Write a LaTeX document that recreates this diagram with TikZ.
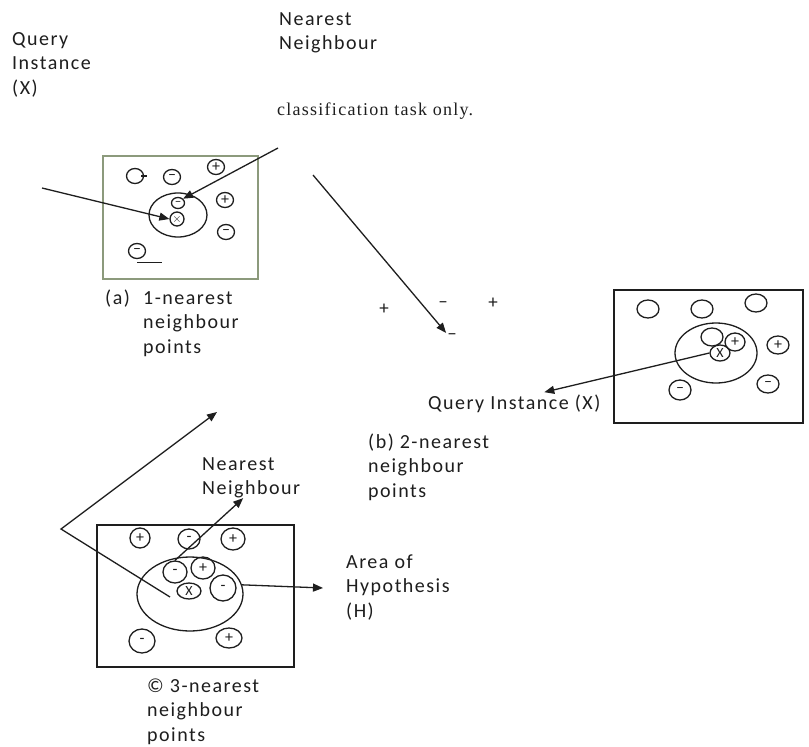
\documentclass[tikz,border=0pt]{standalone}
\usepackage{fontspec}
\setmainfont{Carlito}[LetterSpace=7.5]
\newfontfamily\serifA{Liberation Serif}[LetterSpace=7]
\newfontfamily\signfont{Carlito}
\usetikzlibrary{arrows.meta,shapes.geometric}
\definecolor{ink}{HTML}{1E1E1E}
\definecolor{boxgreen}{HTML}{8C9A7C}
\tikzset{
  lbl/.style={font=\fontsize{20}{24.5}\selectfont, align=left, anchor=base west, inner sep=0pt, text=ink},
  pt/.style={draw=ink, ellipse, inner sep=0pt, line width=1.3pt, font=\signfont\fontsize{16}{16}\selectfont, text=ink},
  sgn/.style={font=\signfont\fontsize{19}{19}\selectfont, inner sep=1pt, text=ink},
  arr/.style={draw=ink, line width=1.3pt, -{Triangle[length=10pt,width=8pt]}},
  frame/.style={draw=ink, line width=1.3pt, inner sep=0pt},
}
\begin{document}
\begin{tikzpicture}[x=1pt,y=-1pt]
\useasboundingbox (0,0) rectangle (809,747);
\fill[white] (0,0) rectangle (809,747);

% ---------- top labels (anchor = baseline of the last line)
\node[lbl] (qlab) at (12,94) {Query\\Instance\\(X)};
\node[lbl] (nntop) at (279,49.5) {Nearest\\Neighbour};
\node[lbl, font=\serifA\fontsize{18}{18}\selectfont] (cls) at (277,115) {classification task only.};

% ---------- panel (a)
\node[frame, draw=boxgreen, minimum width=155, minimum height=123] (boxa) at (180.5,217.5) {};
\node[pt, minimum width=17, minimum height=15] (a1) at (135,176) {};
\draw[draw=ink, line width=1.3pt] ([xshift=-3pt]a1.east) -- ([xshift=3pt]a1.east);
\node[pt, minimum width=17, minimum height=15] (a2) at (172,177) {–};
\node[pt, minimum width=17, minimum height=15] (a3) at (216,167) {+};
\node[pt, minimum width=17, minimum height=15] (a4) at (225,200) {+};
\node[pt, minimum width=17, minimum height=15] (a5) at (226,232) {–};
\node[pt, minimum width=58, minimum height=44] (aH) at (178,215) {};
\node[pt, minimum width=13, minimum height=11, font=\signfont\fontsize{13}{13}\selectfont] (a6) at (178,203) {–};
\node[pt, minimum width=14, minimum height=14, font=\signfont\fontsize{13}{13}\selectfont] (aX) at (177,219) {$\times$};
\node[pt, minimum width=17, minimum height=15] (a7) at (137,251) {–};
\draw[draw=ink, line width=1.3pt] ([yshift=-3pt]a7.south) -- ++(25,0);
\coordinate (qa) at (42,188);
\coordinate (na) at (278,148);
\draw[arr] (qa) -- (aX.west);
\draw[arr] (na) -- (a6.40);
\node[lbl] (laba) at (105,353) {\makebox[38pt][l]{(a)}1-nearest\\\hspace*{38pt}neighbour\\\hspace*{38pt}points};

% ---------- middle signs and long arrow
\node[sgn] (s1) at (384,309) {+};
\node[sgn] (s2) at (443,305) {–};
\node[sgn] (s3) at (493,303) {+};
\node[sgn] (s4) at (452,337) {–};
\coordinate (m1) at (313,175);
\draw[arr] (m1) -- (s4.north west);

% ---------- panel (b)
\node[frame, minimum width=189, minimum height=133] (boxb) at (708.5,356.5) {};
\node[pt, minimum width=22, minimum height=18] (b1) at (648,309) {};
\node[pt, minimum width=22, minimum height=18] (b2) at (702,309) {};
\node[pt, minimum width=22, minimum height=18] (b3) at (756,303) {};
\node[pt, minimum width=82, minimum height=60] (bH) at (716,353) {};
\node[pt, minimum width=22, minimum height=18] (b4) at (712,337) {};
\node[pt, minimum width=20, minimum height=18] (b5) at (735,342) {+};
\node[pt, minimum width=20, minimum height=16, font=\signfont\fontsize{14}{14}\selectfont] (bX) at (720,353) {X};
\node[pt, minimum width=22, minimum height=18] (b6) at (778,345) {+};
\node[pt, minimum width=22, minimum height=20] (b7) at (680,390) {–};
\node[pt, minimum width=22, minimum height=18] (b8) at (768,384) {–};
\node[lbl] (qb) at (428,409) {Query Instance (X)};
\draw[arr] (bX.west) -- ([xshift=30pt,yshift=2pt]qb.north);
\node[lbl] (labb) at (368,497) {(b) 2-nearest\\neighbour\\points};

% ---------- panel (c)
\node[frame, minimum width=197, minimum height=142] (boxc) at (195.5,596) {};
\node[pt, minimum width=20, minimum height=20] (c1) at (140,538) {+};
\node[pt, minimum width=22, minimum height=20] (c2) at (189,539) {-};
\node[pt, minimum width=24, minimum height=22] (c3) at (233,539) {+};
\node[pt, minimum width=106, minimum height=74] (cH) at (190,594) {};
\node[pt, minimum width=24, minimum height=22] (c4) at (175,572) {-};
\node[pt, minimum width=24, minimum height=22] (c5) at (203,568) {+};
\node[pt, minimum width=24, minimum height=16, font=\signfont\fontsize{14}{14}\selectfont] (cX) at (189,591) {X};
\node[pt, minimum width=26, minimum height=26] (c6) at (223,588) {-};
\node[pt, minimum width=26, minimum height=24] (c7) at (142,641) {-};
\node[pt, minimum width=26, minimum height=20] (c8) at (229,638) {+};
\coordinate (v0) at (170,597);
\coordinate (v1) at (61,529);
\coordinate (v2) at (217,412);
\draw[arr] (v0) -- (v1) -- (v2);
\node[lbl] (nnc) at (202,494.5) {Nearest\\Neighbour};
\draw[arr] (c4.north) -- ([xshift=-8pt]nnc.south);
\coordinate (ah) at (323,588);
\draw[arr] (cH.10) -- (ah);
\node[lbl] (area) at (346,617) {Area of\\Hypothesis\\(H)};
\node[lbl] (labc) at (147,741) {\textcopyright{} 3-nearest\\neighbour\\points};
\end{tikzpicture}
\end{document}
